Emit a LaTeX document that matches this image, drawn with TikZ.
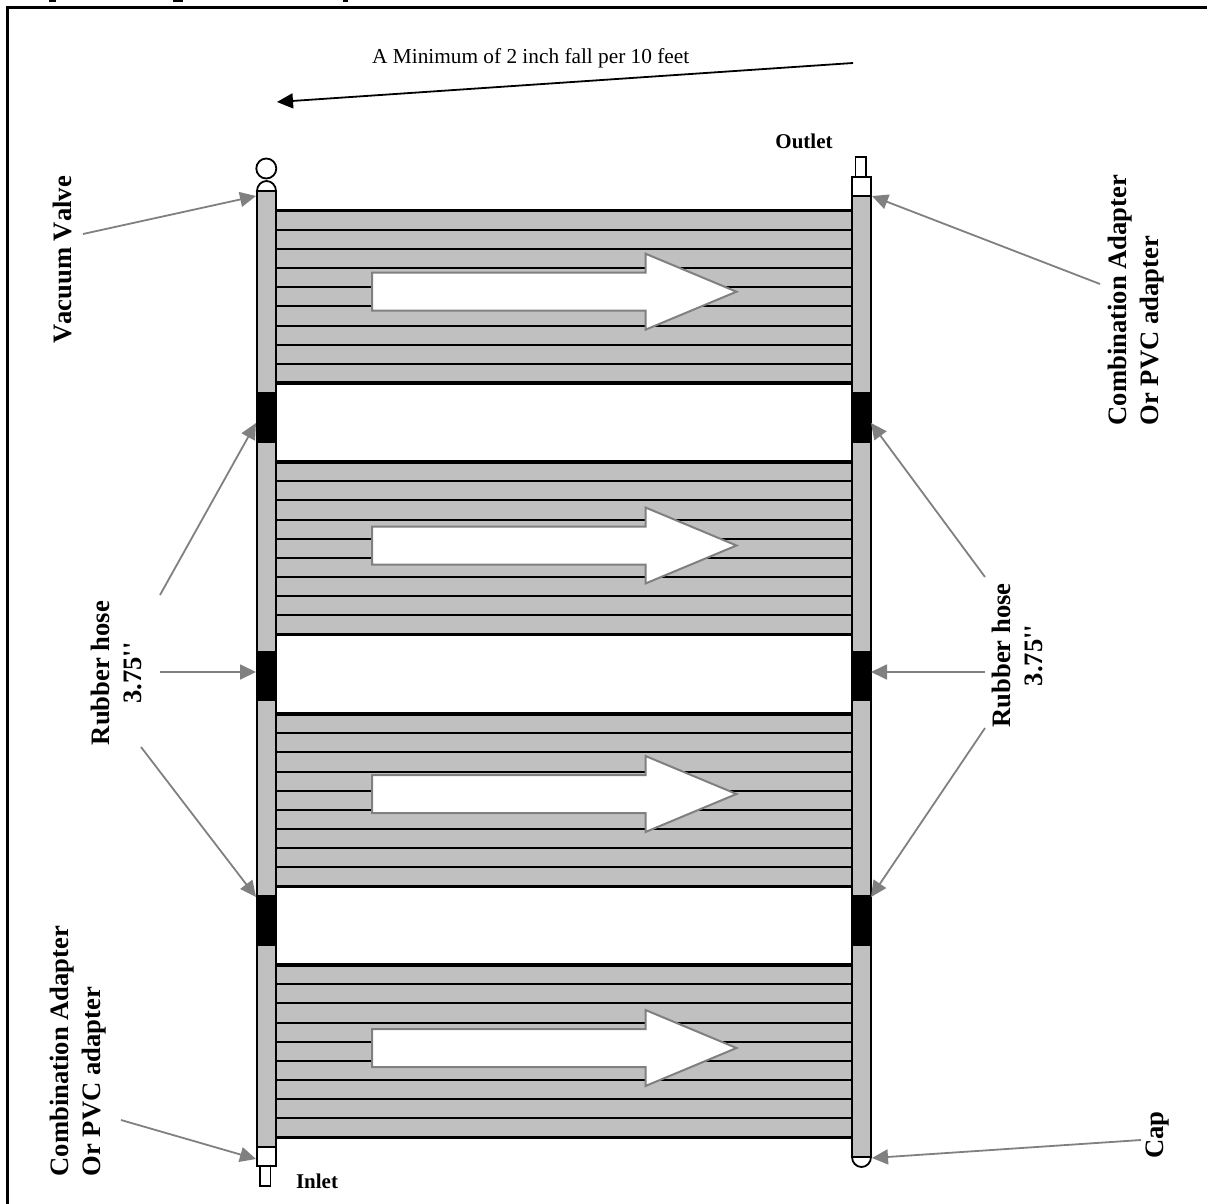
\documentclass[tikz,border=0pt]{standalone}
\usepackage{fontspec}
\setmainfont[Ligatures=TeXOff,Kerning=Off]{Liberation Serif}
\usetikzlibrary{arrows.meta}
\definecolor{panelgray}{HTML}{C0C0C0}
\definecolor{leadgray}{HTML}{808080}
\tikzset{
  lbl/.style={font=\bfseries\fontsize{26.6}{32}\selectfont,inner sep=0pt,rotate=90},
  smalllbl/.style={font=\bfseries\fontsize{21}{25}\selectfont,inner sep=0pt},
  lead/.style={draw=leadgray,line width=1.8pt,-{Triangle[length=16pt,width=15pt,fill=leadgray]}},
  pipe/.style={draw=black,fill=panelgray,line width=1.8pt},
  hose/.style={fill=black,draw=none},
  fitting/.style={draw=black,fill=white,line width=1.8pt},
  tube/.style={draw=black,line width=2pt},
  edgetube/.style={draw=black,line width=3.6pt},
  flow/.style={draw=leadgray,fill=white,line width=2pt,line join=miter}
}
\begin{document}
\begin{tikzpicture}[x=1pt,y=-1pt]
\useasboundingbox (0,0) rectangle (1207,1204);
% clipped heading remnants and frame
\fill (49,0) rectangle (56,2);
\fill (173,0) rectangle (183,2);
\fill (343,0) rectangle (348,2);
\draw[black,line width=3pt] (7.5,1204) -- (7.5,7.5) -- (1207,7.5);
% panels
\foreach \t/\f in {210.5/291.7,462/545.5,714/794,965/1048}{
  \fill[panelgray] (276,\t) rectangle (852,\t+172.6);
  \foreach \k in {1,...,8}{
    \draw[tube] (276,\t+19.18*\k) -- (852,\t+19.18*\k);
  }
  \draw[edgetube] (276,\t) -- (852,\t);
  \draw[edgetube] (276,\t+172.6) -- (852,\t+172.6);
  \draw[flow] (372,\f-19) -- (645.5,\f-19) -- (645.5,\f-38) -- (736.5,\f)
    -- (645.5,\f+38) -- (645.5,\f+19) -- (372,\f+19) -- cycle;
}
% left header
\draw[fitting] (257,191) arc[start angle=180,end angle=360,x radius=9.5,y radius=10] -- cycle;
\draw[pipe] (257,191) rectangle (276,1147);
\draw[black,line width=1.8pt,fill=white] (266.3,168.5) circle[radius=10];
\draw[fitting] (257,1147) rectangle (276,1166);
\draw[fitting] (260.3,1166) rectangle (270.5,1186);
% right header
\draw[pipe] (852,196) rectangle (871,1157);
\draw[fitting] (852,1157) arc[start angle=180,end angle=0,x radius=9.5,y radius=10] -- cycle;
\draw[fitting] (852,177) rectangle (871,196);
\draw[fitting] (855.5,157) rectangle (865.7,177);
% rubber hoses
\foreach \a/\b in {392/443,651/701,895/946}{
  \fill[hose] (255.8,\a) rectangle (276.5,\b);
  \fill[hose] (851,\a) rectangle (871.8,\b);
}
% texts
\node[font=\fontsize{21.3}{25}\selectfont,inner sep=0pt,anchor=base west] (fall) at (372,64) {A Minimum of 2 inch fall per 10 feet};
\node[smalllbl] (outlet) at (804,141) {Outlet};
\node[smalllbl] (inlet) at (317,1181) {Inlet};
\node[lbl] (vac) at (62,260) {Vacuum Valve};
\node[lbl,align=left] (combotop) at (1136,300) {Combination Adapter\\Or PVC adapter};
\node[lbl,align=left] (combobot) at (78,1051) {Combination Adapter\\Or PVC adapter};
\node[lbl,align=center] (hoseleft) at (116,673) {Rubber hose\\3.75''};
\node[lbl,align=center] (hoseright) at (1017,655.5) {Rubber hose\\3.75''};
\node[lbl] (capl) at (1158,1135) {Cap};
% connector end points
\coordinate (fallA) at (853,63);
\coordinate (fallB) at (277,102);
\coordinate (vacA) at (83,234);     \coordinate (vacB) at (256,196);
\coordinate (ctA) at (1100,284);    \coordinate (ctB) at (872,196);
\coordinate (hlA) at (160,595);     \coordinate (hlB) at (256,423);
\coordinate (hmA) at (160,672);     \coordinate (hmB) at (256,672);
\coordinate (hnA) at (141,747);     \coordinate (hnB) at (256,897);
\coordinate (hrA) at (985,577);     \coordinate (hrB) at (871,423);
\coordinate (hsA) at (985,672);     \coordinate (hsB) at (871,672);
\coordinate (htA) at (985,728);     \coordinate (htB) at (871,897);
\coordinate (cbA) at (121,1120);    \coordinate (cbB) at (256,1159);
\coordinate (capA) at (1141,1140);  \coordinate (capB) at (872,1158);
% connectors
\draw[black,line width=1.8pt,-{Triangle[length=16pt,width=15pt]}] (fallA) -- (fallB);
\foreach \p/\q in {vacA/vacB,ctA/ctB,hlA/hlB,hmA/hmB,hnA/hnB,hrA/hrB,hsA/hsB,htA/htB,cbA/cbB,capA/capB}{
  \draw[lead] (\p) -- (\q);
}
\end{tikzpicture}
\end{document}
